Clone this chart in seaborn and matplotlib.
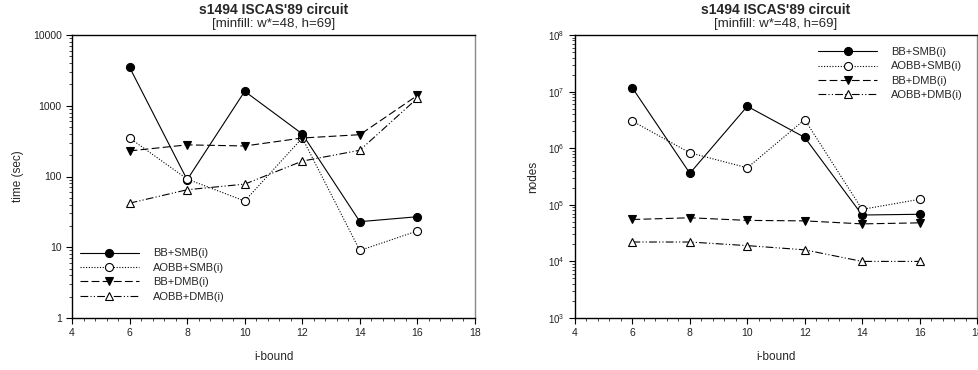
import numpy as np
import pandas as pd
import matplotlib
matplotlib.use("Agg")
import matplotlib.pyplot as plt
import matplotlib.ticker as mticker
import seaborn as sns

# i-bound values
ibound = [6, 8, 10, 12, 14, 16]
methods = ["BB+SMB(i)", "AOBB+SMB(i)", "BB+DMB(i)", "AOBB+DMB(i)"]

# time (sec)
time_bb_smb = [3500, 90, 1600, 400, 23, 27]
time_aobb_smb = [350, 92, 45, 350, 9, 17]
time_bb_dmb = [230, 280, 270, 350, 390, 1400]
time_aobb_dmb = [42, 65, 78, 165, 235, 1280]

# nodes
nodes_bb_smb = [1.16e7, 3.6e5, 5.5e6, 1.55e6, 6.6e4, 6.8e4]
nodes_aobb_smb = [3.0e6, 8.3e5, 4.5e5, 3.2e6, 8.3e4, 1.25e5]
nodes_bb_dmb = [5.5e4, 5.9e4, 5.3e4, 5.2e4, 4.6e4, 4.8e4]
nodes_aobb_dmb = [2.2e4, 2.2e4, 1.9e4, 1.6e4, 1.0e4, 1.0e4]

time_series = [time_bb_smb, time_aobb_smb, time_bb_dmb, time_aobb_dmb]
node_series = [nodes_bb_smb, nodes_aobb_smb, nodes_bb_dmb, nodes_aobb_dmb]

styles = {
    "BB+SMB(i)": dict(marker="o", linestyle="-", mfc="black"),
    "AOBB+SMB(i)": dict(marker="o", linestyle=(0, (1, 1.5)), mfc="white"),
    "BB+DMB(i)": dict(marker="v", linestyle=(0, (7, 3)), mfc="black"),
    "AOBB+DMB(i)": dict(marker="^", linestyle=(0, (7, 2, 1, 2, 1, 2)), mfc="white"),
}

sns.set_style("ticks")
plt.rcParams["font.family"] = ["Liberation Sans", "DejaVu Sans"]

fig = plt.figure(figsize=(9.79, 3.70), dpi=100)
W, H = 979, 370
ax1 = fig.add_axes([72 / W, (H - 318) / H, 403 / W, 283 / H])
ax2 = fig.add_axes([575 / W, (H - 318) / H, 402 / W, 283 / H])


def draw(ax, series, ylabel, ylim, legend_loc, legend_anchor):
    for name, vals in zip(methods, series):
        df = pd.DataFrame({"i": ibound, "v": vals})
        st = styles[name]
        sns.lineplot(data=df, x="i", y="v", ax=ax, color="black", lw=0.8,
                     marker=st["marker"], linestyle=st["linestyle"],
                     markerfacecolor=st["mfc"], markeredgecolor="black",
                     markeredgewidth=0.8, markersize=5.8, label=name)
    ax.set_yscale("log")
    ax.set_ylim(*ylim)
    ax.set_xlim(4, 18)
    ax.set_xticks(np.arange(4, 19, 2))
    ax.xaxis.set_minor_locator(mticker.MultipleLocator(0.4))
    ax.yaxis.set_minor_locator(mticker.LogLocator(base=10, subs=np.arange(2, 10)))
    ax.yaxis.set_minor_formatter(mticker.NullFormatter())
    ax.tick_params(which="major", direction="out", length=4, width=0.8,
                   labelsize=7.5, color="black", labelcolor="#222222")
    ax.tick_params(which="minor", direction="out", length=2.5, width=0.6)
    ax.set_xlabel("i-bound", fontsize=8.5, labelpad=9)
    ax.set_ylabel(ylabel, fontsize=8.5, labelpad=6)
    for side in ["left", "bottom"]:
        ax.spines[side].set_linewidth(1.0)
        ax.spines[side].set_color("black")
    for side in ["top", "right"]:
        ax.spines[side].set_visible(True)
        ax.spines[side].set_linewidth(1.0)
    ax.spines["top"].set_color("black")
    ax.spines["right"].set_color("#888888")
    ax.text(0.5, 1.088, "s1494 ISCAS'89 circuit", transform=ax.transAxes,
            ha="center", va="center", fontsize=10, fontweight="bold")
    ax.text(0.5, 1.040, "[minfill: w*=48, h=69]", transform=ax.transAxes,
            ha="center", va="center", fontsize=9.5)
    ax.legend(loc=legend_loc, bbox_to_anchor=legend_anchor, frameon=False,
              fontsize=8, handlelength=5.3, handletextpad=1.3,
              labelspacing=0.4, borderaxespad=0.3)


draw(ax1, time_series, "time (sec)", (1, 10000), "lower left", (0.0, 0.03))
ax1.yaxis.set_major_formatter(mticker.FuncFormatter(lambda v, p: f"{v:g}"))
draw(ax2, node_series, "nodes", (1e3, 1e8), "upper right", (0.985, 0.985))
ax2.tick_params(axis="y", which="major", labelsize=7)

fig.savefig("out.png", dpi=100)
